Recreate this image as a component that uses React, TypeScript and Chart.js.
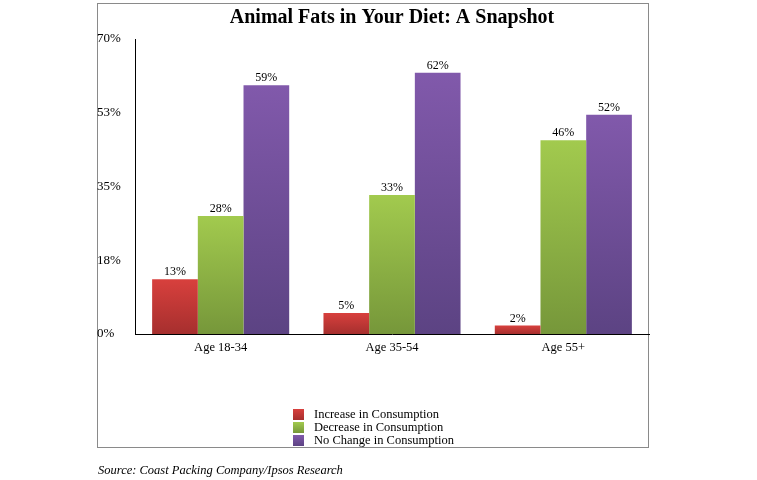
import React, { useEffect, useRef } from "react";
import { Chart, registerables } from "chart.js";

Chart.register(...registerables);

const categories = ["Age 18-34", "Age 35-54", "Age 55+"];
const seriesNames = ["Increase in Consumption", "Decrease in Consumption", "No Change in Consumption"];
const increaseValues = [13, 5, 2];
const decreaseValues = [28, 33, 46];
const noChangeValues = [59, 62, 52];
const yTickValues = [0, 17.5, 35, 52.5, 70];
const titleText = "Animal Fats in Your Diet: A Snapshot";
const sourceText = "Source: Coast Packing Company/Ipsos Research";

const seriesColors = [
  { top: "#d8403d", bottom: "#a62f2e" },
  { top: "#a2ca4e", bottom: "#76973a" },
  { top: "#8159ab", bottom: "#5c4383" },
];

const SERIF = '"Liberation Serif", "Times New Roman", serif';

function gradientFill(index: number) {
  return (ctx: any) => {
    const c = seriesColors[index];
    const chart = ctx.chart;
    const { chartArea, scales } = chart;
    if (!chartArea || !scales || !scales.y || ctx.type !== "data") return c.top;
    const v = ctx.raw as number;
    const top = scales.y.getPixelForValue(v);
    const bottom = scales.y.getPixelForValue(0);
    if (!isFinite(top) || !isFinite(bottom) || bottom - top < 1) return c.top;
    const g = chart.ctx.createLinearGradient(0, top, 0, bottom);
    g.addColorStop(0, c.top);
    g.addColorStop(1, c.bottom);
    return g;
  };
}

const framePlugin = {
  id: "frameAndSource",
  beforeDraw(chart: any) {
    const ctx = chart.ctx;
    ctx.save();
    ctx.fillStyle = "#ffffff";
    ctx.fillRect(0, 0, chart.width, chart.height);
    ctx.strokeStyle = "#8a8a8a";
    ctx.lineWidth = 1;
    ctx.strokeRect(97.5, 3.5, 551, 444);
    ctx.restore();
  },
  afterDraw(chart: any) {
    const ctx = chart.ctx;
    ctx.save();
    // legend
    ctx.font = `12.5px ${SERIF}`;
    const boxSize = 11;
    const gap = 10;
    let maxW = 0;
    seriesNames.forEach((n) => {
      maxW = Math.max(maxW, ctx.measureText(n).width);
    });
    const totalW = boxSize + gap + maxW;
    const left = Math.round(373 - totalW / 2);
    const rowCenters = [414.5, 427.5, 440.5];
    seriesNames.forEach((n, i) => {
      const cy = rowCenters[i];
      const c = seriesColors[i];
      const g = ctx.createLinearGradient(0, cy - boxSize / 2, 0, cy + boxSize / 2);
      g.addColorStop(0, c.top);
      g.addColorStop(1, c.bottom);
      ctx.fillStyle = g;
      ctx.fillRect(left, cy - boxSize / 2, boxSize, boxSize);
      ctx.fillStyle = "#000";
      ctx.textAlign = "left";
      ctx.textBaseline = "middle";
      ctx.fillText(n, left + boxSize + gap, cy);
    });
    // source
    ctx.font = `italic 12.5px ${SERIF}`;
    ctx.textAlign = "left";
    ctx.textBaseline = "alphabetic";
    ctx.fillStyle = "#000";
    ctx.fillText(sourceText, 98, 474);
    ctx.restore();
  },
};

const valueLabelPlugin = {
  id: "valueLabels",
  afterDatasetsDraw(chart: any) {
    const ctx = chart.ctx;
    ctx.save();
    ctx.font = `12px ${SERIF}`;
    ctx.fillStyle = "#000";
    ctx.textAlign = "center";
    ctx.textBaseline = "alphabetic";
    chart.data.datasets.forEach((ds: any, i: number) => {
      const meta = chart.getDatasetMeta(i);
      meta.data.forEach((bar: any, j: number) => {
        ctx.fillText(`${ds.data[j]}%`, bar.x, bar.y - 4);
      });
    });
    ctx.restore();
  },
};

export default function App() {
  const canvasRef = useRef<HTMLCanvasElement | null>(null);

  useEffect(() => {
    if (!canvasRef.current) return;
    const allValues = [increaseValues, decreaseValues, noChangeValues];
    const chart = new Chart(canvasRef.current, {
      type: "bar",
      data: {
        labels: categories,
        datasets: seriesNames.map((name, i) => ({
          label: name,
          data: allValues[i],
          backgroundColor: gradientFill(i),
          borderWidth: 0,
          categoryPercentage: 0.8,
          barPercentage: 1.0,
        })),
      },
      options: {
        animation: false,
        responsive: false,
        layout: { padding: { left: 97, right: 108, top: 0, bottom: 116 } },
        plugins: {
          legend: { display: false },
          tooltip: { enabled: false },
          title: {
            display: true,
            text: titleText,
            fullSize: false,
            color: "#000",
            font: { family: SERIF, size: 20, weight: "bold", lineHeight: 1.2 },
            padding: { top: 6, bottom: 9 },
          },
        },
        scales: {
          x: {
            grid: { display: false, drawTicks: false },
            border: { display: true, color: "#000", width: 1 },
            ticks: { color: "#000", font: { family: SERIF, size: 12.5 }, padding: 6 },
            afterFit: (scale: any) => {
              scale.height = 30;
            },
          },
          y: {
            min: 0,
            max: 70,
            grid: { display: false, drawTicks: false },
            border: { display: true, color: "#000", width: 1 },
            afterBuildTicks: (scale: any) => {
              scale.ticks = yTickValues.map((v) => ({ value: v }));
            },
            ticks: {
              color: "#000",
              font: { family: SERIF, size: 13 },
              crossAlign: "far",
              callback: (v: any) => `${Math.round(Number(v))}%`,
            },
            afterFit: (scale: any) => {
              scale.width = 38;
            },
          },
        },
      },
      plugins: [framePlugin, valueLabelPlugin],
    });
    return () => chart.destroy();
  }, []);

  return (
    <div style={{ position: "absolute", left: 0, top: 0, width: 757, height: 480 }}>
      <canvas ref={canvasRef} width={757} height={480} style={{ display: "block" }} />
    </div>
  );
}
